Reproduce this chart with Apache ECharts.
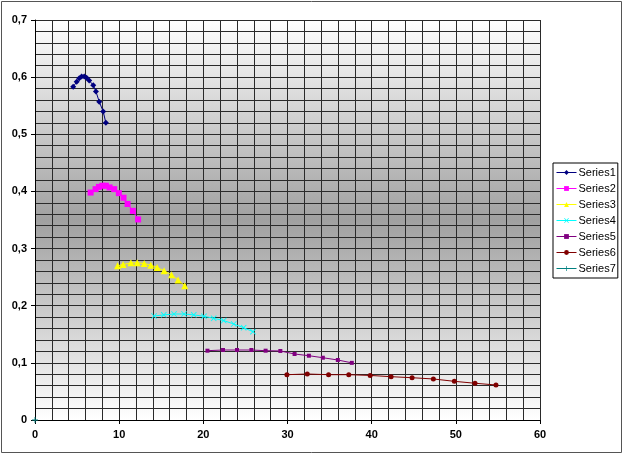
<!DOCTYPE html>
<html>
<head>
<meta charset="utf-8">
<script src="https://cdn.jsdelivr.net/npm/echarts@6/dist/echarts.min.js"></script>
<style>
html,body{margin:0;padding:0;background:#fff;}
#c{width:624px;height:455px;}
</style>
</head>
<body>
<div id="c"></div>
<script>
var seriesNames = ['Series1','Series2','Series3','Series4','Series5','Series6','Series7'];
var s1x = [4.54,4.95,5.26,5.54,5.85,6.13,6.44,6.92,7.24,7.63,8.10,8.42];
var s1y = [0.583,0.592,0.598,0.601,0.601,0.599,0.594,0.586,0.575,0.557,0.540,0.520];
var s2x = [6.61,7.20,7.59,8.00,8.42,8.86,9.41,9.96,10.52,11.00,11.63,12.25];
var s2y = [0.398,0.404,0.408,0.410,0.410,0.407,0.404,0.397,0.389,0.378,0.366,0.351];
var s3x = [9.81,10.47,11.39,12.14,12.97,13.76,14.51,15.34,16.22,17.00,17.79];
var s3y = [0.270,0.272,0.275,0.275,0.274,0.271,0.267,0.261,0.254,0.245,0.235];
var s4x = [14.15,15.30,16.52,17.71,18.86,20.08,21.23,22.42,23.61,24.79,25.90];
var s4y = [0.182,0.184,0.1855,0.1855,0.184,0.1815,0.178,0.174,0.168,0.1615,0.1545];
var s5x = [20.49,22.34,24.00,25.71,27.40,29.15,30.84,32.54,34.20,35.98,37.64];
var s5y = [0.1213,0.1225,0.1225,0.1225,0.1213,0.1208,0.1155,0.1125,0.109,0.105,0.100];
var s6x = [29.93,32.35,34.88,37.28,39.82,42.31,44.80,47.33,49.82,52.28,54.77];
var s6y = [0.0793,0.0805,0.0793,0.0793,0.078,0.0758,0.074,0.0718,0.0677,0.0643,0.0613];
var s7x = [0];
var s7y = [0];
var xTicks = [0,10,20,30,40,50,60];
var yTicks = [0,0.1,0.2,0.3,0.4,0.5,0.6,0.7];

function pairs(xs, ys){ return xs.map(function(x,i){ return [x, ys[i]]; }); }

var colors = ['#000080','#FF00FF','#FFFF00','#00FFFF','#800080','#800000','#008080'];
var xShape = 'path://M0,1L1,0L5,4L9,0L10,1L6,5L10,9L9,10L5,6L1,10L0,9L4,5Z';
var plusShape = 'path://M4.3,0L5.7,0L5.7,4.3L10,4.3L10,5.7L5.7,5.7L5.7,10L4.3,10L4.3,5.7L0,5.7L0,4.3L4.3,4.3Z';
var symbols = ['diamond','rect','triangle',xShape,'rect','circle',plusShape];
var sizes = [6,6,7,6,4,5,6];
var data = [pairs(s1x,s1y),pairs(s2x,s2y),pairs(s3x,s3y),pairs(s4x,s4y),pairs(s5x,s5y),pairs(s6x,s6y),pairs(s7x,s7y)];

var chart = echarts.init(document.getElementById('c'), null, {renderer:'canvas'});
var gridColor = '#2a2a2a';
var option = {
  animation:false,
  backgroundColor:'#ffffff',
  color: colors,
  textStyle:{fontFamily:'Liberation Sans, Arial, sans-serif'},
  graphic:[{type:'rect', shape:{x:1.5,y:1.5,width:620,height:451}, style:{fill:null, stroke:'#555', lineWidth:1}, silent:true, z:-1}],
  grid:{left:35, top:20, right:84, bottom:35, show:true, borderWidth:0,
    backgroundColor: new echarts.graphic.LinearGradient(0,0,0,1,[
      {offset:0,color:'#ffffff'},{offset:0.5,color:'#a0a0a0'},{offset:1,color:'#ffffff'}])},
  legend:{
    orient:'vertical', left:553, top:163, width:68,
    data: seriesNames,
    backgroundColor:'#ffffff', borderColor:'#000', borderWidth:1,
    padding:[3,2,3,3], itemWidth:20, itemHeight:6, itemGap:3,
    lineStyle:{width:1},
    textStyle:{fontSize:11, color:'#000', fontFamily:'Liberation Sans, Arial, sans-serif', lineHeight:13, padding:[0,0,0,-3]}
  },
  xAxis:{
    type:'value', min:0, max:60, interval:10,
    axisLine:{show:true, onZero:false, lineStyle:{color:'#000'}},
    axisTick:{show:true, length:4, lineStyle:{color:'#000'}},
    minorTick:{show:false, splitNumber:5},
    splitLine:{show:true, lineStyle:{color:gridColor, width:1}},
    minorSplitLine:{show:true, lineStyle:{color:gridColor, width:1}},
    axisLabel:{fontWeight:'bold', fontSize:11, color:'#000', margin:9,
      formatter:function(v){ return String(v); }}
  },
  yAxis:{
    type:'value', min:0, max:0.7, interval:0.1,
    axisLine:{show:true, onZero:false, lineStyle:{color:'#000'}},
    axisTick:{show:true, length:4, lineStyle:{color:'#000'}},
    minorTick:{show:false, splitNumber:5},
    splitLine:{show:true, lineStyle:{color:gridColor, width:1}},
    minorSplitLine:{show:true, lineStyle:{color:gridColor, width:1}},
    axisLabel:{fontWeight:'bold', fontSize:11, color:'#000', margin:8,
      formatter:function(v){ if (Math.abs(v)<1e-9) return '0'; return v.toFixed(1).replace('.',','); }}
  },
  series: seriesNames.map(function(n,i){
    return {
      name:n, type:'line', data:data[i], symbol:symbols[i], symbolSize:sizes[i],
      showAllSymbol:true, clip:false,
      lineStyle:{color:colors[i], width:1},
      itemStyle:{color:colors[i]},
      z: 3
    };
  })
};
chart.setOption(option);
</script>
</body>
</html>
